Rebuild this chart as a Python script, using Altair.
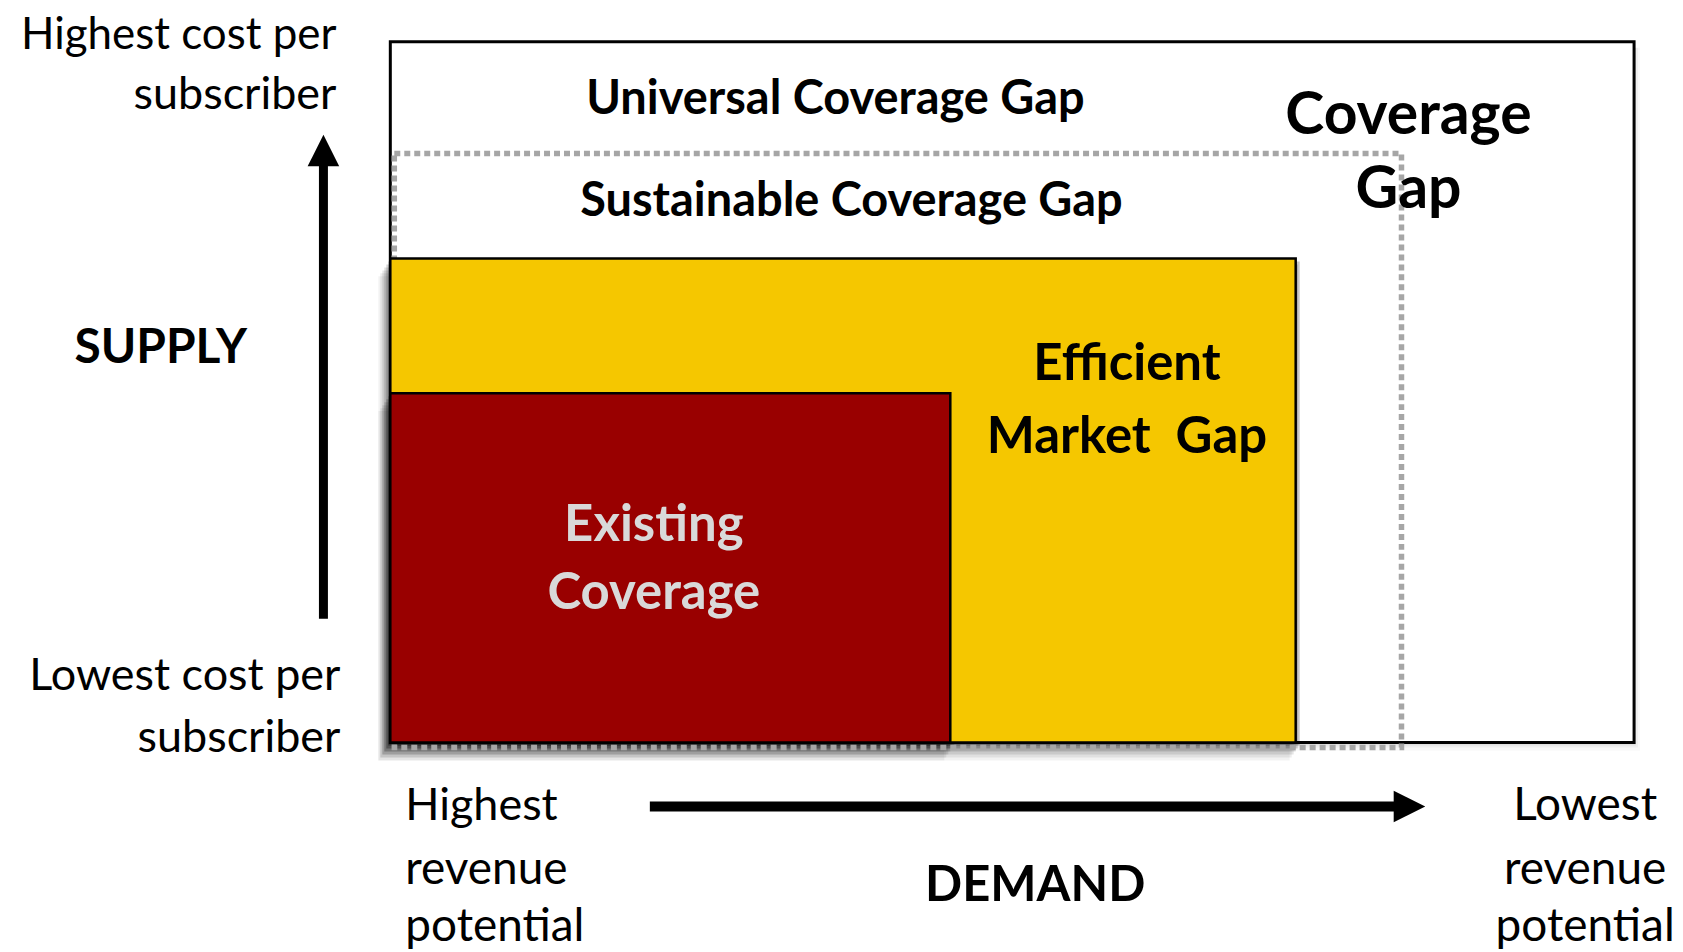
import altair as alt
import pandas as pd

# ---- diagram geometry (reference coordinate units: demand → x, cost ↓ y) ----
box_names = ["Universal", "Sustainable", "Efficient", "Existing"]
box_x0 = [391, 395, 391, 391]
box_x1 = [1637, 1404, 1298, 952]
box_y0 = [41, 153, 258, 393]
box_y1 = [743, 748, 743, 743]

# ---- labels ----
lab_text = ["Universal Coverage Gap", "Sustainable Coverage Gap", "Coverage", "Gap",
            "Efficient", "Market\u00a0\u00a0Gap", "Existing", "Coverage", "SUPPLY", "DEMAND",
            "Highest cost per", "subscriber", "Lowest cost per", "subscriber",
            "Highest", "revenue", "potential", "Lowest", "revenue", "potential"]
lab_x = [837, 853, 1411, 1411, 1129, 1129, 655, 655, 161, 1037,
         337, 337, 341, 341, 406, 406, 406, 1588, 1588, 1588]
lab_y = [99, 202, 115, 190, 365, 438, 526, 594, 349, 887,
         35, 94, 676, 738, 807, 871, 928, 807, 871, 928]
lab_size = [47, 47, 59, 59, 51, 51, 51, 51, 48, 49,
            44, 45, 45, 45, 45, 46, 46, 46, 46, 46]
lab_bold = [True, True, True, True, True, True, True, True, True, True,
            False, False, False, False, False, False, False, False, False, False]
lab_color = ["black"] * 6 + ["#d9d9d9", "#d9d9d9"] + ["black"] * 12
lab_align = ["center"] * 10 + ["right"] * 4 + ["left"] * 3 + ["center"] * 3

# ---- arrows ----
varrow_x = [324, 324]
varrow_y = [619, 160]
varrow_tip = [324, 150]
harrow_x = [651, 1402]
harrow_y = [807, 807]
harrow_tip = [1412, 807]

W, H = 1667, 936
FONT = "Lato"

xs = alt.Scale(domain=[8, 8 + W], nice=False, zero=False)
ys = alt.Scale(domain=[8, 8 + H], nice=False, zero=False, reverse=True)

boxes = pd.DataFrame({"name": box_names, "x0": box_x0, "x1": box_x1,
                      "y0": box_y0, "y1": box_y1})


def rect_layer(df, **kw):
    return alt.Chart(df).mark_rect(**kw).encode(
        x=alt.X("x0:Q", scale=xs, axis=None),
        x2="x1:Q",
        y=alt.Y("y0:Q", scale=ys, axis=None),
        y2="y1:Q",
    )


layers = []

outer = boxes[boxes.name == "Universal"]

# soft shadow of the outer frame
for dx, dy, op in [(6, 8, 0.03), (4, 5, 0.04), (2, 3, 0.05)]:
    sh = outer.copy()
    sh["x0"] = sh["x0"] + 6
    sh["x1"] = sh["x1"] + dx
    sh["y0"] = sh["y0"] + 6
    sh["y1"] = sh["y1"] + dy
    layers.append(rect_layer(sh, fill="black", opacity=op))
# outer frame (universal coverage)
layers.append(rect_layer(outer, fill="white", stroke="black", strokeWidth=3))

# shadows for filled boxes
filled = boxes[boxes.name.isin(["Efficient", "Existing"])]
for dx, dy, op in [(-12, 18, 0.05), (-10, 15, 0.07), (-8, 12, 0.1), (-6, 9, 0.13), (-4, 6, 0.17), (-2, 3, 0.22)]:
    sh = filled.copy()
    sh["x0"] = sh["x0"] + dx
    sh["x1"] = sh["x1"] + dx + 6
    sh["y0"] = sh["y0"] + dy
    sh["y1"] = sh["y1"] + dy
    layers.append(rect_layer(sh, fill="black", opacity=op))

# sustainable coverage (dotted)
sust = boxes[boxes.name == "Sustainable"]
layers.append(rect_layer(sust, fill=None, stroke="#a6a6a6", strokeWidth=5.5, strokeDash=[6, 4]))

# efficient market (yellow)
layers.append(rect_layer(boxes[boxes.name == "Efficient"], fill="#F5C700", stroke="black", strokeWidth=2.5))
# existing coverage (red)
layers.append(rect_layer(boxes[boxes.name == "Existing"], fill="#990000", stroke="black", strokeWidth=2.5))

# arrows
vdf = pd.DataFrame({"x": varrow_x, "y": varrow_y})
layers.append(alt.Chart(vdf).mark_line(color="black", strokeWidth=9, strokeCap="butt").encode(
    x=alt.X("x:Q", scale=xs, axis=None), y=alt.Y("y:Q", scale=ys, axis=None), order="y:Q"))
layers.append(alt.Chart(pd.DataFrame({"x": [varrow_tip[0]], "y": [varrow_tip[1]]})).mark_point(
    shape="M0,-1L1,1L-1,1Z", size=1000, filled=True, color="black", opacity=1).encode(
    x=alt.X("x:Q", scale=xs, axis=None), y=alt.Y("y:Q", scale=ys, axis=None)))

hdf = pd.DataFrame({"x": harrow_x, "y": harrow_y})
layers.append(alt.Chart(hdf).mark_line(color="black", strokeWidth=10, strokeCap="butt").encode(
    x=alt.X("x:Q", scale=xs, axis=None), y=alt.Y("y:Q", scale=ys, axis=None), order="x:Q"))
layers.append(alt.Chart(pd.DataFrame({"x": [harrow_tip[0]], "y": [harrow_tip[1]]})).mark_point(
    shape="M1,0L-1,-1L-1,1Z", size=1000, filled=True, color="black", opacity=1).encode(
    x=alt.X("x:Q", scale=xs, axis=None), y=alt.Y("y:Q", scale=ys, axis=None)))

# labels
for t, x, y, s, b, c, a in zip(lab_text, lab_x, lab_y, lab_size, lab_bold, lab_color, lab_align):
    df = pd.DataFrame({"t": [t], "x": [x], "y": [y]})
    layers.append(alt.Chart(df).mark_text(
        font=FONT, fontSize=s, fontWeight="bold" if b else "normal", color=c,
        align=a, baseline="middle").encode(
        x=alt.X("x:Q", scale=xs, axis=None), y=alt.Y("y:Q", scale=ys, axis=None), text="t:N"))

chart = alt.layer(*layers).properties(width=W, height=H, padding=0).configure_view(strokeWidth=0)

chart.save("out.html", embed_options={"renderer": "svg", "actions": False})
